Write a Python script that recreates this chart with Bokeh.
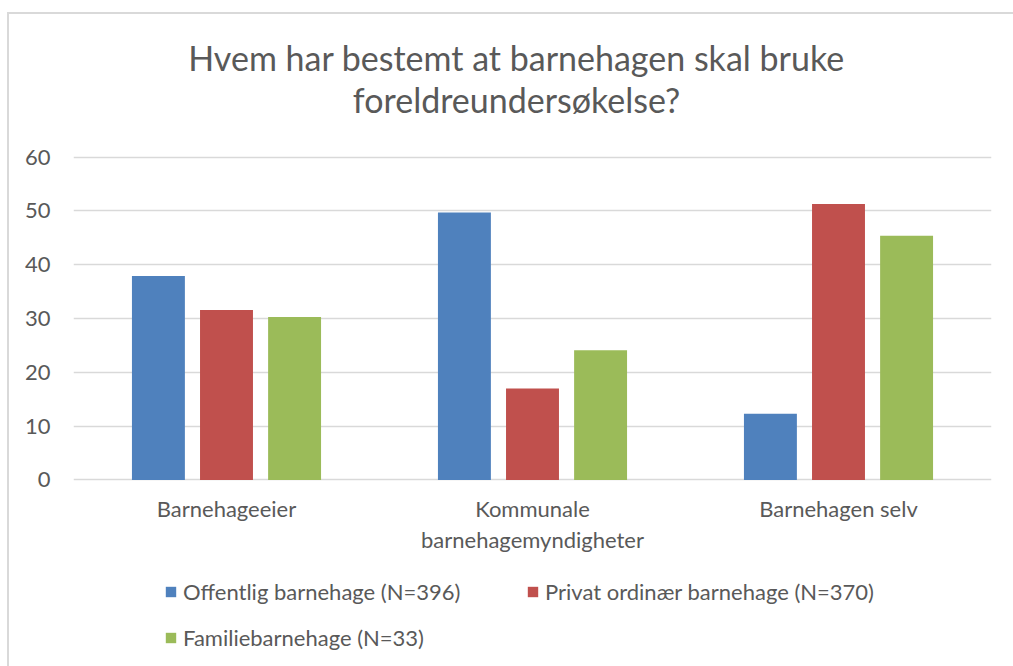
from bokeh.plotting import figure
from bokeh.models import (FactorRange, Range1d, Label, Legend, LegendItem,
                          ColumnDataSource, FixedTicker)
from bokeh.transform import dodge
from bokeh.core.properties import value
from bokeh.embed import file_html
from bokeh.resources import INLINE

# ---- data ----
categories = ["Barnehageeier", "Kommunale barnehagemyndigheter", "Barnehagen selv"]
tick_line1 = ["Barnehageeier", "Kommunale", "Barnehagen selv"]
tick_line2 = ["", "barnehagemyndigheter", ""]
series_names = ["Offentlig barnehage (N=396)", "Privat ordinær barnehage (N=370)",
                "Familiebarnehage (N=33)"]
offentlig = [37.9, 49.7, 12.3]
privat = [31.6, 17.0, 51.3]
familie = [30.3, 24.1, 45.4]
y_ticks = [0, 10, 20, 30, 40, 50, 60]
title_lines = ["Hvem har bestemt at barnehagen skal bruke", "foreldreundersøkelse?"]

colors = ["#4F81BD", "#C0504D", "#9BBB59"]
TXT = "#595959"
FONT = "Lato"

src = ColumnDataSource(dict(cat=categories, off=offentlig, pri=privat, fam=familie,
                            l1=tick_line1, l2=tick_line2))

p = figure(x_range=FactorRange(*categories, range_padding=0, factor_padding=0),
           y_range=Range1d(-35.04, 86.52), width=1006, height=654,
           output_backend="svg", toolbar_location=None,
           min_border_left=64, min_border_right=24, min_border_top=0,
           min_border_bottom=0)
p.title = None
p.outline_line_color = None
p.background_fill_color = "white"
p.border_fill_color = "white"

offsets = [-0.2225, 0.0, 0.2225]
renderers = []
for col, off, c in zip(["off", "pri", "fam"], offsets, colors):
    r = p.vbar(x=dodge("cat", off, range=p.x_range), top=col, width=0.173,
               source=src, fill_color=c, line_color=None)
    renderers.append(r)

# grid
p.xgrid.grid_line_color = None
p.ygrid.grid_line_color = "#d9d9d9"
p.ygrid.grid_line_width = 1.3
p.ygrid.ticker = FixedTicker(ticks=y_ticks)

# y axis
p.yaxis.ticker = FixedTicker(ticks=y_ticks)
p.yaxis.axis_line_color = None
p.yaxis.major_tick_line_color = None
p.yaxis.minor_tick_line_color = None
p.yaxis.major_tick_out = 0
p.yaxis.major_tick_in = 0
p.yaxis.major_label_standoff = 23
p.yaxis.major_label_text_font = FONT
p.yaxis.major_label_text_font_size = "22px"
p.yaxis.major_label_text_color = TXT

# x axis: category labels drawn under the bars (axis itself hidden)
p.xaxis.visible = False
for col, yv in [("l1", -5.35), ("l2", -11.15)]:
    p.text(x="cat", y=yv, text=col, source=src, text_align="center",
           text_baseline="alphabetic", text_font=value(FONT),
           text_font_size="22px", text_color=TXT)

# title
for txt, yv in zip(title_lines, [78.5, 70.8]):
    p.add_layout(Label(x=1.448, y=yv, text=txt, text_align="center",
                       text_baseline="alphabetic", text_font=FONT,
                       text_font_size="34px", text_color=TXT))

legend = Legend(items=[LegendItem(label=n, renderers=[r]) for n, r in zip(series_names, renderers)],
                orientation="horizontal", ncols=2, location=(91, 13),
                glyph_width=13, glyph_height=13,
                label_standoff=6, label_width=333, label_height=36, spacing=10,
                padding=0, margin=0, border_line_color=None, background_fill_alpha=0,
                label_text_font=FONT, label_text_font_size="22px", label_text_color=TXT)
p.add_layout(legend)

p.styles = {"border-top": "2px solid #d9d9d9", "border-left": "2px solid #d9d9d9",
            "box-sizing": "border-box", "margin-left": "7px", "margin-top": "12px"}

open("out.html", "w").write(file_html(p, INLINE))
